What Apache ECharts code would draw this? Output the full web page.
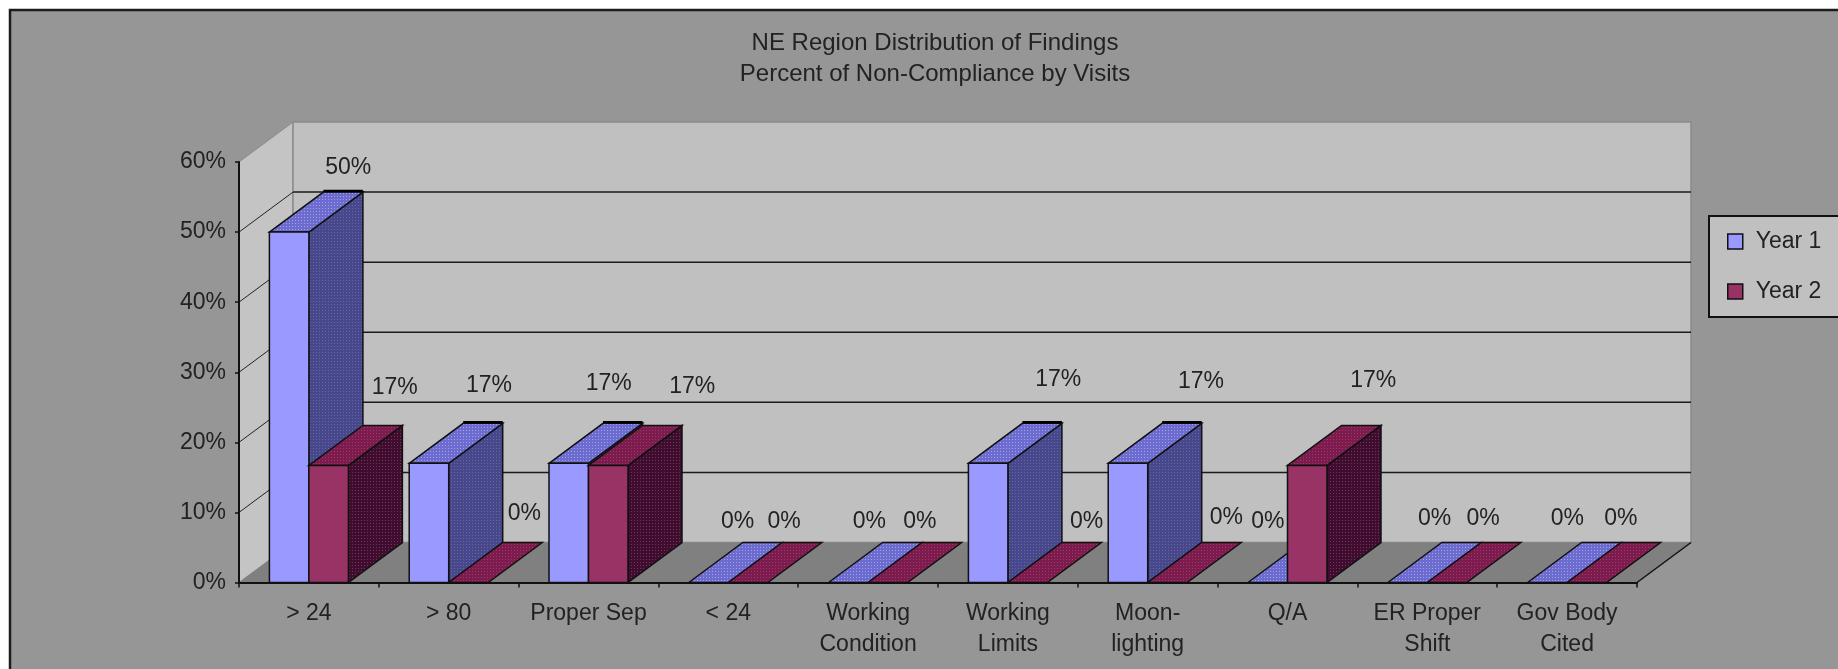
<!DOCTYPE html>
<html>
<head>
<meta charset="utf-8">
<title>NE Region Distribution of Findings</title>
<script src="https://cdn.jsdelivr.net/npm/echarts@6/dist/echarts.min.js"></script>
<style>
  html, body { margin: 0; padding: 0; background: #fff; overflow: hidden; }
  #chart { width: 1838px; height: 669px; filter: blur(0.6px); }
</style>
</head>
<body>
<div id="chart"></div>
<script>
const categories = [
  "> 24", "> 80", "Proper Sep", "< 24", "Working\nCondition",
  "Working\nLimits", "Moon-\nlighting", "Q/A", "ER Proper\nShift", "Gov Body\nCited"
];
const year1 = [50, 17, 17, 0, 0, 17, 17, 0, 0, 0];
const year2 = [16.7, 0, 16.7, 0, 0, 0, 0, 16.7, 0, 0];
const yTicks = [10, 20, 30, 40, 50];

// Excel placed these labels by hand, so they sit at uneven offsets from their bars
const labelShiftY1 = [[59, -64], [60, -78], [40, -80], [29, -61], [21, -61], [70, -84], [73, -82], [0, -61], [27, -64], [20, -64]];
const labelShiftY2 = [[66, -78], [56, -69], [84, -79], [36, -61], [32, -61], [59, -61], [59, -65], [66, -85], [36, -64], [34, -64]];

const depthX = 54;
const depthY = 40;
const fontFamily = '"Liberation Sans", Arial, sans-serif';
const textColor = "#222";

function dotPattern(base, dot) {
  const c = document.createElement("canvas");
  c.width = 3;
  c.height = 3;
  const ctx = c.getContext("2d");
  ctx.fillStyle = base;
  ctx.fillRect(0, 0, 3, 3);
  ctx.fillStyle = dot;
  ctx.fillRect(1, 1, 1, 1);
  return { image: c, repeat: "repeat" };
}

const styles = [
  {
    front: "#9999ff",
    top: dotPattern("#6c6cd0", "#a4a4e4"),
    side: dotPattern("#47478f", "#6a6a8c")
  },
  {
    front: "#993366",
    top: dotPattern("#7c1c4e", "#a23a68"),
    side: dotPattern("#420c30", "#5e4054")
  }
];

// Box behind the plot: left wall, back wall, floor and the gridlines on them
function renderWalls(params, api) {
  const cs = params.coordSys;
  const x0 = cs.x;
  const x1 = cs.x + cs.width;
  const y0 = api.coord([0, 0])[1];
  const yTop = api.coord([0, 60])[1];
  const children = [
    {
      type: "polygon",
      shape: { points: [[x0, y0], [x0, yTop], [x0 + depthX, yTop - depthY], [x0 + depthX, y0 - depthY]] },
      style: { fill: "#c4c4c4", stroke: "#8a8a8a", lineWidth: 1 }
    },
    {
      type: "rect",
      shape: { x: x0 + depthX, y: yTop - depthY, width: cs.width, height: y0 - yTop },
      style: { fill: "#c0c0c0", stroke: "#8a8a8a", lineWidth: 1.5 }
    },
    {
      type: "polygon",
      shape: { points: [[x0, y0], [x0 + depthX, y0 - depthY], [x1 + depthX, y0 - depthY], [x1, y0]] },
      style: { fill: "#808080" }
    },
    {
      type: "line",
      shape: { x1: x1, y1: y0, x2: x1 + depthX, y2: y0 - depthY },
      style: { stroke: "#111", lineWidth: 1.5 }
    }
  ];
  yTicks.forEach(v => {
    const y = api.coord([0, v])[1];
    children.push({
      type: "line",
      shape: { x1: x0, y1: y, x2: x0 + depthX, y2: y - depthY },
      style: { stroke: "#222", lineWidth: 1 }
    });
    children.push({
      type: "line",
      shape: { x1: x0 + depthX, y1: y - depthY, x2: x1 + depthX, y2: y - depthY },
      style: { stroke: "#1a1a1a", lineWidth: 1.5 }
    });
  });
  return { type: "group", children };
}

function barRenderer(seriesIndex) {
  return function (params, api) {
    const value = api.value(1);
    const bottom = api.coord([api.value(0), 0]);
    const yTop = api.coord([api.value(0), value])[1];
    const band = api.size([1, 0])[0];
    const w = band * 0.2825;
    const left = bottom[0] - w + seriesIndex * w;
    const right = left + w;
    const s = styles[seriesIndex];
    const edge = { stroke: "#111", lineWidth: 1.5 };
    const children = [];
    if (value > 0) {
      children.push({
        type: "polygon",
        shape: { points: [[right, yTop], [right + depthX, yTop - depthY], [right + depthX, bottom[1] - depthY], [right, bottom[1]]] },
        style: { fill: s.side, ...edge }
      });
    }
    children.push({
      type: "polygon",
      shape: { points: [[left, yTop], [left + depthX, yTop - depthY], [right + depthX, yTop - depthY], [right, yTop]] },
      style: { fill: s.top, ...edge }
    });
    if (value > 0) {
      children.push({
        type: "rect",
        shape: { x: left, y: yTop, width: w, height: bottom[1] - yTop },
        style: { fill: s.front, ...edge }
      });
    }
    if (seriesIndex === 0 && value > 0) {
      // heavy back edge the original shows on the Year 1 tops
      children.push({
        type: "line",
        shape: { x1: left + depthX, y1: yTop - depthY - 1, x2: right + depthX, y2: yTop - depthY - 1 },
        style: { stroke: "#000", lineWidth: 2.5 }
      });
    }
    return { type: "group", children };
  };
}

function labelRenderer(shifts, seriesIndex) {
  return function (params, api) {
    const i = api.value(0);
    const value = api.value(1);
    const p = api.coord([i, value]);
    const w = api.size([1, 0])[0] * 0.2825;
    const cx = p[0] - w / 2 + seriesIndex * w;
    return {
      type: "text",
      x: cx + shifts[i][0],
      y: p[1] + shifts[i][1],
      style: {
        text: Math.round(value) + "%",
        fill: textColor,
        font: "23px " + fontFamily,
        textAlign: "center",
        textVerticalAlign: "middle"
      }
    };
  };
}

const toPoints = arr => arr.map((v, i) => [i, v]);

const chart = echarts.init(document.getElementById("chart"));

chart.setOption({
  animation: false,
  backgroundColor: "#ffffff",
  graphic: [{
    type: "rect",
    z: -100,
    shape: { x: 10, y: 10, width: 1900, height: 720 },
    style: { fill: "#969696", stroke: "#1c1c1c", lineWidth: 2.5 }
  }],
  title: {
    text: "NE Region Distribution of Findings\nPercent of Non-Compliance by Visits",
    left: 930,
    top: 23,
    textAlign: "center",
    textStyle: { fontFamily, fontSize: 24, fontWeight: "normal", color: textColor, lineHeight: 31 }
  },
  legend: {
    orient: "vertical",
    left: 1709,
    top: 216,
    padding: [14, 40, 14, 18],
    itemGap: 27,
    itemWidth: 15,
    itemHeight: 15,
    icon: "rect",
    selectedMode: false,
    backgroundColor: "#c0c0c0",
    borderColor: "#111",
    borderWidth: 2,
    textStyle: { fontFamily, fontSize: 23, color: textColor, padding: [0, 0, 0, 8] },
    data: [
      { name: "Year 1", itemStyle: { color: styles[0].front, borderColor: "#111", borderWidth: 1.5 } },
      { name: "Year 2", itemStyle: { color: styles[1].front, borderColor: "#111", borderWidth: 1.5 } }
    ]
  },
  grid: { left: 239, top: 162, width: 1398, height: 420.5 },
  xAxis: {
    type: "category",
    data: categories,
    axisLine: { lineStyle: { color: "#111", width: 2 } },
    axisTick: { show: true, length: 5, lineStyle: { color: "#111", width: 1.5 } },
    axisLabel: { interval: 0, color: textColor, fontFamily, fontSize: 23, lineHeight: 31, margin: 16 },
    splitLine: { show: false }
  },
  yAxis: {
    type: "value",
    min: 0,
    max: 60,
    interval: 10,
    axisLine: { show: true, lineStyle: { color: "#111", width: 2 } },
    axisTick: { show: true, length: 4, lineStyle: { color: "#111", width: 1.5 } },
    axisLabel: { formatter: "{value}%", color: textColor, fontFamily, fontSize: 23, margin: 13, padding: [4, 0, 0, 0] },
    splitLine: { show: false }
  },
  series: [
    {
      type: "custom",
      name: "walls",
      z: -1,
      silent: true,
      clip: false,
      renderItem: renderWalls,
      data: [[0, 0]],
      encode: { x: 0, y: 1 }
    },
    {
      type: "custom",
      name: "Year 1",
      z: 2,
      clip: false,
      itemStyle: { color: styles[0].front },
      renderItem: barRenderer(0),
      data: toPoints(year1),
      encode: { x: 0, y: 1 }
    },
    {
      type: "custom",
      name: "Year 2",
      z: 3,
      clip: false,
      itemStyle: { color: styles[1].front },
      renderItem: barRenderer(1),
      data: toPoints(year2),
      encode: { x: 0, y: 1 }
    },
    {
      type: "custom",
      name: "Year 1 labels",
      z: 5,
      silent: true,
      clip: false,
      renderItem: labelRenderer(labelShiftY1, 0),
      data: toPoints(year1),
      encode: { x: 0, y: 1 }
    },
    {
      type: "custom",
      name: "Year 2 labels",
      z: 5,
      silent: true,
      clip: false,
      renderItem: labelRenderer(labelShiftY2, 1),
      data: toPoints(year2),
      encode: { x: 0, y: 1 }
    }
  ]
});
</script>
</body>
</html>
